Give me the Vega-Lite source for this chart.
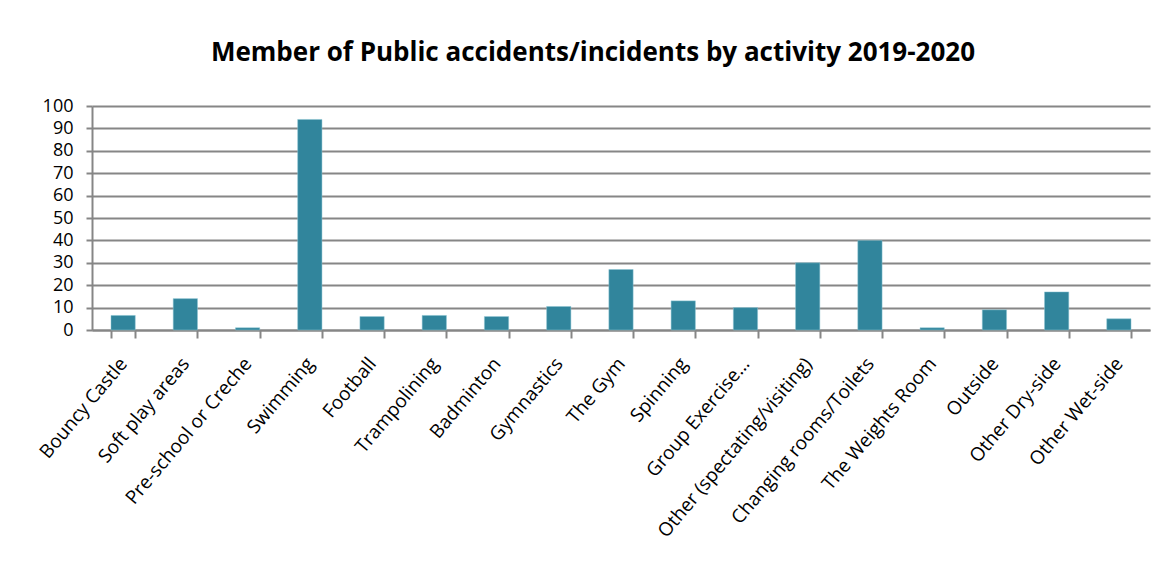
{
  "$schema": "https://vega.github.io/schema/vega-lite/v6.json",
  "width": 1058,
  "height": 224,
  "padding": {"left": 36, "top": 40, "right": 10, "bottom": 5},
  "background": "white",
  "title": {
    "text": "Member of Public accidents/incidents by activity 2019-2020",
    "font": "Open Sans",
    "fontSize": 26,
    "fontWeight": "bold",
    "color": "#000000",
    "anchor": "middle",
    "dx": -28,
    "offset": 31
  },
  "data": {
    "values": [
      {"activity": "Bouncy Castle", "count": 6.5},
      {"activity": "Soft play areas", "count": 14},
      {"activity": "Pre-school or Creche", "count": 1},
      {"activity": "Swimming", "count": 94},
      {"activity": "Football", "count": 6},
      {"activity": "Trampolining", "count": 6.5},
      {"activity": "Badminton", "count": 6},
      {"activity": "Gymnastics", "count": 10.5},
      {"activity": "The Gym", "count": 27},
      {"activity": "Spinning", "count": 13},
      {"activity": "Group Exercise…", "count": 10},
      {"activity": "Other (spectating/visiting)", "count": 30},
      {"activity": "Changing rooms/Toilets", "count": 40},
      {"activity": "The Weights Room", "count": 1},
      {"activity": "Outside", "count": 9},
      {"activity": "Other Dry-side", "count": 17},
      {"activity": "Other Wet-side", "count": 5}
    ]
  },
  "mark": {"type": "bar", "color": "#31859C", "stroke": "#8cc4d2", "strokeWidth": 0.5},
  "encoding": {
    "x": {
      "field": "activity",
      "type": "nominal",
      "sort": null,
      "title": null,
      "scale": {"paddingInner": 0.61, "paddingOuter": 0.305},
      "axis": {
        "labelAngle": -50,
        "labelAlign": "right",
        "labelBaseline": "middle",
        "labelFont": "Open Sans",
        "labelFontSize": 19,
        "labelColor": "#000000",
        "labelPadding": 22,
        "tickBand": "extent",
        "tickSize": 8,
        "tickColor": "#868686",
        "tickWidth": 2,
        "domainColor": "#868686",
        "domainWidth": 2,
        "grid": false,
        "labelLimit": 400
      }
    },
    "y": {
      "field": "count",
      "type": "quantitative",
      "title": null,
      "scale": {"domain": [0, 100], "nice": false},
      "axis": {
        "values": [0, 10, 20, 30, 40, 50, 60, 70, 80, 90, 100],
        "labelFont": "Open Sans",
        "labelFontSize": 18,
        "labelColor": "#000000",
        "labelPadding": 13,
        "tickSize": 6,
        "tickColor": "#868686",
        "tickWidth": 2,
        "domainColor": "#868686",
        "domainWidth": 2,
        "grid": true,
        "gridColor": "#868686",
        "gridWidth": 2
      }
    }
  },
  "config": {
    "view": {"stroke": null}
  }
}
